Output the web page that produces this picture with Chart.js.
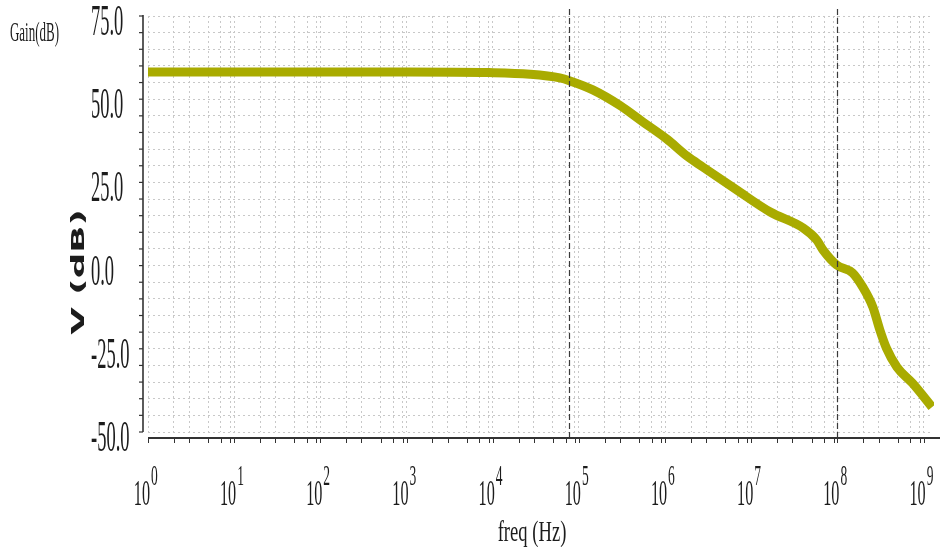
<!DOCTYPE html>
<html>
<head>
<meta charset="utf-8">
<script src="https://cdn.jsdelivr.net/npm/chart.js@4/dist/chart.umd.min.js"></script>
<style>
  html, body { margin: 0; padding: 0; background: #fff; }
  #wrap { width: 940px; height: 547px; position: relative; }
</style>
</head>
<body>
<div id="wrap"><canvas id="plot"></canvas></div>
<script>
// Gain curve
const freqHz = [1, 1e3, 9e3, 2.7e4, 6.0e4, 7.9e4, 1.45e5, 3.0e5, 5.5e5, 1.05e6, 1.82e6, 2.75e6,
  6.8e6, 1.66e7, 4.0e7, 5.75e7, 6.8e7, 9.8e7, 1.5e8, 1.96e8, 2.57e8, 3.1e8, 3.7e8, 4.9e8, 7.4e8, 1.25e9];
const gainDb = [58.2, 58.2, 58.0, 57.5, 56.4, 55.5, 52.8, 48.1, 43.2, 38.0, 32.8, 29.6,
  22.7, 16.1, 11.3, 7.7, 4.7, 0.2, -2.2, -6.4, -12.4, -19.3, -24.8, -30.5, -35.3, -42.5];

// axes
const yLabelValues = [75, 50, 25, 0, -25, -50];
const xDecades = [0, 1, 2, 3, 4, 5, 6, 7, 8, 9];
const xMinorSteps = [1, 2, 3, 5, 7, 9];
const markerFreqs = [7.6e4, 1.0e8];

const CURVE = '#a9ab00';
const INK = '#1c1c1c';
const SERIF = '"Liberation Serif", "DejaVu Serif", serif';

// draws horizontally squeezed text (the plot uses a very narrow serif)
function narrowText(ctx, text, x, y, size, sx, align) {
  ctx.save();
  ctx.font = size + 'px ' + SERIF;
  ctx.fillStyle = INK;
  ctx.textAlign = align;
  ctx.textBaseline = 'alphabetic';
  ctx.translate(x, y);
  ctx.scale(sx, 1);
  ctx.fillText(text, 0, 0);
  ctx.restore();
}

const decorations = {
  id: 'decorations',
  afterDatasetsDraw(chart) {
    const { ctx, chartArea, scales } = chart;
    ctx.save();
    ctx.strokeStyle = '#3a3a3a';
    ctx.lineWidth = 1.2;
    ctx.setLineDash([6, 3]);
    markerFreqs.forEach(f => {
      const px = Math.round(scales.x.getPixelForValue(f)) + 0.5;
      ctx.beginPath();
      ctx.moveTo(px, chartArea.top - 7);
      ctx.lineTo(px, chartArea.bottom + 6);
      ctx.stroke();
    });
    ctx.restore();
  },
  afterDraw(chart) {
    const { ctx, chartArea, scales } = chart;
    const x = scales.x, y = scales.y;
    const axisX = chartArea.left - 5;
    const axisY = chartArea.bottom + 6;

    ctx.save();
    ctx.strokeStyle = '#333';
    ctx.lineWidth = 1.6;
    // y axis line + ticks
    ctx.beginPath();
    ctx.moveTo(axisX, chartArea.top - 1);
    ctx.lineTo(axisX, chartArea.bottom);
    ctx.stroke();
    ctx.lineWidth = 1.2;
    y.ticks.forEach(t => {
      const py = y.getPixelForValue(t.value);
      ctx.beginPath();
      ctx.moveTo(axisX - 4, py);
      ctx.lineTo(axisX, py);
      ctx.stroke();
    });
    // x axis line + ticks
    ctx.lineWidth = 1.8;
    ctx.beginPath();
    ctx.moveTo(chartArea.left, axisY);
    ctx.lineTo(chartArea.right + 8, axisY);
    ctx.stroke();
    ctx.lineWidth = 1;
    x.ticks.forEach(t => {
      const px = Math.round(x.getPixelForValue(t.value)) + 0.5;
      ctx.beginPath();
      ctx.moveTo(px, axisY);
      ctx.lineTo(px, axisY + 5);
      ctx.stroke();
    });
    ctx.restore();

    // y tick labels
    yLabelValues.forEach(v => {
      narrowText(ctx, v.toFixed(1), 91, y.getPixelForValue(v) + 19, 44, 0.42, 'left');
    });
    // x decade labels 10^n
    xDecades.forEach(n => {
      const px = x.getPixelForValue(Math.pow(10, n));
      narrowText(ctx, '10', px + 2, 505, 36, 0.45, 'right');
      narrowText(ctx, String(n), px + 3, 485, 30, 0.45, 'left');
    });
    // titles
    narrowText(ctx, 'Gain(dB)', 10, 41, 27, 0.48, 'left');
    narrowText(ctx, 'freq (Hz)', (chartArea.left + chartArea.right) / 2 - 8, 541, 30, 0.62, 'center');

    ctx.save();
    ctx.translate(80, 272);
    ctx.rotate(-Math.PI / 2);
    ctx.scale(2.1, 1);
    ctx.font = 'bold 17px "DejaVu Sans", sans-serif';
    ctx.fillStyle = INK;
    ctx.textAlign = 'center';
    ctx.textBaseline = 'middle';
    ctx.fillText('V (dB)', 0, 0);
    ctx.restore();
  }
};

new Chart(document.getElementById('plot'), {
  type: 'line',
  data: {
    datasets: [{
      label: 'Gain',
      data: freqHz.map((f, i) => ({ x: f, y: gainDb[i] })),
      borderColor: CURVE,
      borderWidth: 9,
      borderCapStyle: 'butt',
      pointRadius: 0,
      cubicInterpolationMode: 'monotone',
      clip: { left: 3, top: 0, right: 2, bottom: 0 },
    }],
  },
  options: {
    responsive: true,
    maintainAspectRatio: false,
    animation: false,
    layout: { padding: { top: 16, right: 8, left: 0, bottom: 0 } },
    plugins: {
      legend: { display: false },
      tooltip: { enabled: false },
    },
    scales: {
      x: {
        type: 'logarithmic',
        min: 1,
        max: 1.25e9,
        afterBuildTicks(scale) {
          const ticks = [];
          xDecades.forEach(k => {
            xMinorSteps.forEach(m => {
              const v = m * Math.pow(10, k);
              if (v <= scale.max) ticks.push({ value: v });
            });
          });
          scale.ticks = ticks;
        },
        afterFit(scale) { scale.height = 547 - 432; },
        ticks: { display: false },
        grid: { color: '#c8c8c8', lineWidth: 1, drawTicks: false },
        border: { display: false, dash: [2, 3] },
      },
      y: {
        min: -50,
        max: 75,
        afterFit(scale) { scale.width = 148; },
        ticks: { display: false, stepSize: 5 },
        grid: { color: '#c8c8c8', lineWidth: 1, drawTicks: false },
        border: { display: false, dash: [2, 3] },
      },
    },
  },
  plugins: [decorations],
});
</script>
</body>
</html>
